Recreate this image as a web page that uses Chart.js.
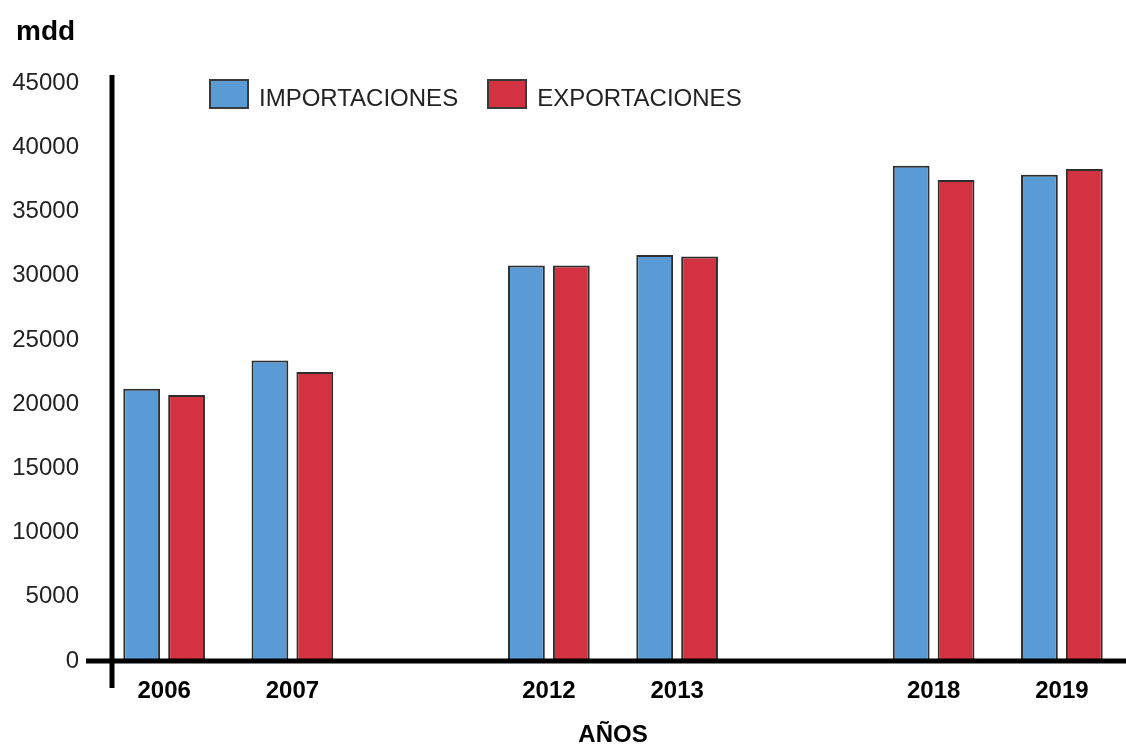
<!DOCTYPE html>
<html><head><meta charset="utf-8">
<script src="https://cdn.jsdelivr.net/npm/chart.js@4"></script>
<style>
html,body{margin:0;padding:0;background:#fff;}
#wrap{position:relative;width:1126px;height:745px;overflow:hidden;}
#ytitle{position:absolute;left:16px;top:17px;font:bold 28px/28px "Liberation Sans",Arial,sans-serif;color:#000;}
#legend{position:absolute;left:209px;top:79px;display:flex;align-items:center;font:24px "Liberation Sans",Arial,sans-serif;color:#222;}
.item{display:flex;align-items:center;margin-right:29px;}
.item span{position:relative;top:4px;}
.box{box-sizing:border-box;width:40px;height:30px;border:2px solid #3a3a3a;margin-right:10px;}
</style></head>
<body>
<div id="wrap">
<canvas id="c" width="1126" height="745"></canvas>
<div id="ytitle"></div>
<div id="legend"></div>
</div>
<script>
const categories = ['2006', '2007', '', '2012', '2013', '', '2018', '2019'];
const importaciones = [21200, 23400, null, 30800, 31600, null, 38550, 37850];
const exportaciones = [20700, 22500, null, 30800, 31500, null, 37450, 38300];
const seriesNames = ['IMPORTACIONES', 'EXPORTACIONES'];
const seriesColors = ['#5b9bd5', '#d33340'];
const yTitle = 'mdd';
const xTitle = 'AÑOS';

const FONT = '"Liberation Sans", Arial, sans-serif';

const axisLines = {
  id: 'axisLines',
  afterDatasetsDraw(chart) {
    const {ctx, chartArea} = chart;
    const y0 = chart.scales.y.getPixelForValue(0);
    const xv = chartArea.left + 12;
    ctx.save();
    ctx.strokeStyle = '#000';
    ctx.lineWidth = 5;
    ctx.beginPath();
    ctx.moveTo(xv, chartArea.top - 8);
    ctx.lineTo(xv, y0 + 27);
    ctx.moveTo(chartArea.left - 14, y0);
    ctx.lineTo(chartArea.right, y0);
    ctx.stroke();
    ctx.restore();
  }
};

new Chart(document.getElementById('c'), {
  type: 'bar',
  data: {
    labels: categories,
    datasets: [
      {label: seriesNames[0], data: importaciones, backgroundColor: seriesColors[0], borderColor: '#2e2e2e', borderWidth: 2, borderSkipped: false},
      {label: seriesNames[1], data: exportaciones, backgroundColor: seriesColors[1], borderColor: '#2e2e2e', borderWidth: 2, borderSkipped: false}
    ]
  },
  options: {
    responsive: false,
    animation: false,
    layout: {padding: {left: 4, right: 0, top: 83, bottom: 0}},
    datasets: {bar: {categoryPercentage: 0.7, barPercentage: 0.82}},
    plugins: {
      legend: {display: false},
      tooltip: {enabled: false},
      title: {display: false}
    },
    scales: {
      x: {
        grid: {display: false, drawTicks: false}, border: {display: false},
        ticks: {color: '#000', padding: 16, font: {family: FONT, size: 24, weight: 'bold'}, autoSkip: false, maxRotation: 0},
        title: {display: true, text: xTitle, color: '#000', font: {family: FONT, size: 24, weight: 'bold'}, padding: {top: 0, bottom: -5}},
        afterFit(s) { s.height = 84; }
      },
      y: {
        min: 0, max: 45000,
        grid: {display: false, drawTicks: false}, border: {display: false},
        ticks: {stepSize: 5000, color: '#222', padding: 21, font: {family: FONT, size: 24}, callback: v => String(v)},
        afterFit(s) { s.width = 96; }
      }
    }
  },
  plugins: [axisLines]
});

document.getElementById('ytitle').textContent = yTitle;
const leg = document.getElementById('legend');
seriesNames.forEach((n, i) => {
  const it = document.createElement('div');
  it.className = 'item';
  const b = document.createElement('div');
  b.className = 'box';
  b.style.background = seriesColors[i];
  const t = document.createElement('span');
  t.textContent = n;
  it.appendChild(b); it.appendChild(t);
  leg.appendChild(it);
});
</script>
</body></html>
